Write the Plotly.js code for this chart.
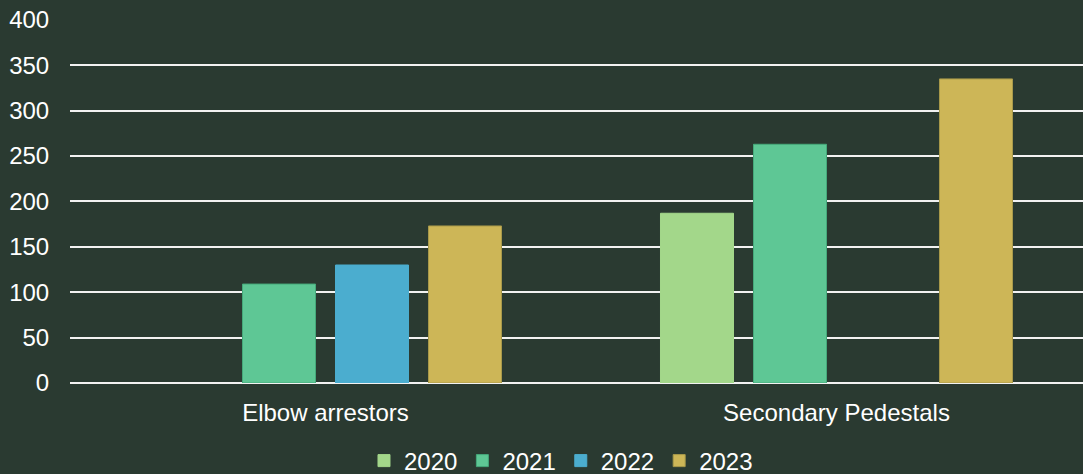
<!DOCTYPE html>
<html>
<head>
<meta charset="utf-8">
<script src="https://cdn.plot.ly/plotly-3.0.1.min.js"></script>
<style>
  html, body { margin: 0; padding: 0; background: #2a3a31; }
  #chart { width: 1083px; height: 474px; }
</style>
</head>
<body>
<div id="chart"></div>
<script>
const categories = ["Elbow arrestors", "Secondary Pedestals"];
const seriesNames = ["2020", "2021", "2022", "2023"];
const values2020 = [null, 187];
const values2021 = [109, 263];
const values2022 = [130, null];
const values2023 = [173, 335];
const yTicks = [0, 50, 100, 150, 200, 250, 300, 350, 400];

const colors = ["#a3d78a", "#5ec795", "#4badcf", "#cdb657"];
const lineColors = ["#a3d78a", "#45a97b", "#4badcf", "#a8994a"];
const allValues = [values2020, values2021, values2022, values2023];

const traces = seriesNames.map((name, i) => ({
  type: "bar",
  name: name,
  x: categories,
  y: allValues[i],
  marker: { color: colors[i], line: { color: lineColors[i], width: 1 } },
  hoverinfo: "skip"
}));

const font = { family: "Liberation Sans, Arial, sans-serif", size: 24, color: "#ffffff" };

const layout = {
  width: 1083,
  height: 474,
  paper_bgcolor: "#2a3a31",
  plot_bgcolor: "#2a3a31",
  font: font,
  margin: { l: 70, r: 0, t: 19, b: 91 },
  barmode: "group",
  bargap: 0.272,
  bargroupgap: 0.215,
  showlegend: true,
  legend: {
    orientation: "h",
    xref: "container",
    yref: "container",
    x: 0.518,
    xanchor: "center",
    y: 0.0274,
    yanchor: "middle",
    font: font,
    bgcolor: "rgba(0,0,0,0)"
  },
  xaxis: {
    type: "category",
    range: [-0.5, 1.4824],
    showgrid: false,
    zeroline: false,
    showline: false,
    ticks: "outside",
    ticklen: 8,
    tickcolor: "rgba(0,0,0,0)",
    tickfont: font
  },
  yaxis: {
    range: [0, 401],
    tickvals: yTicks,
    ticktext: yTicks.map(String),
    showgrid: true,
    gridcolor: "#f2f2f2",
    gridwidth: 2,
    zeroline: true,
    zerolinecolor: "#f2f2f2",
    zerolinewidth: 2,
    showline: false,
    ticks: "outside",
    ticklen: 15,
    tickcolor: "rgba(0,0,0,0)",
    tickfont: font
  }
};

Plotly.newPlot("chart", traces, layout, { staticPlot: true, displayModeBar: false });
</script>
</body>
</html>
